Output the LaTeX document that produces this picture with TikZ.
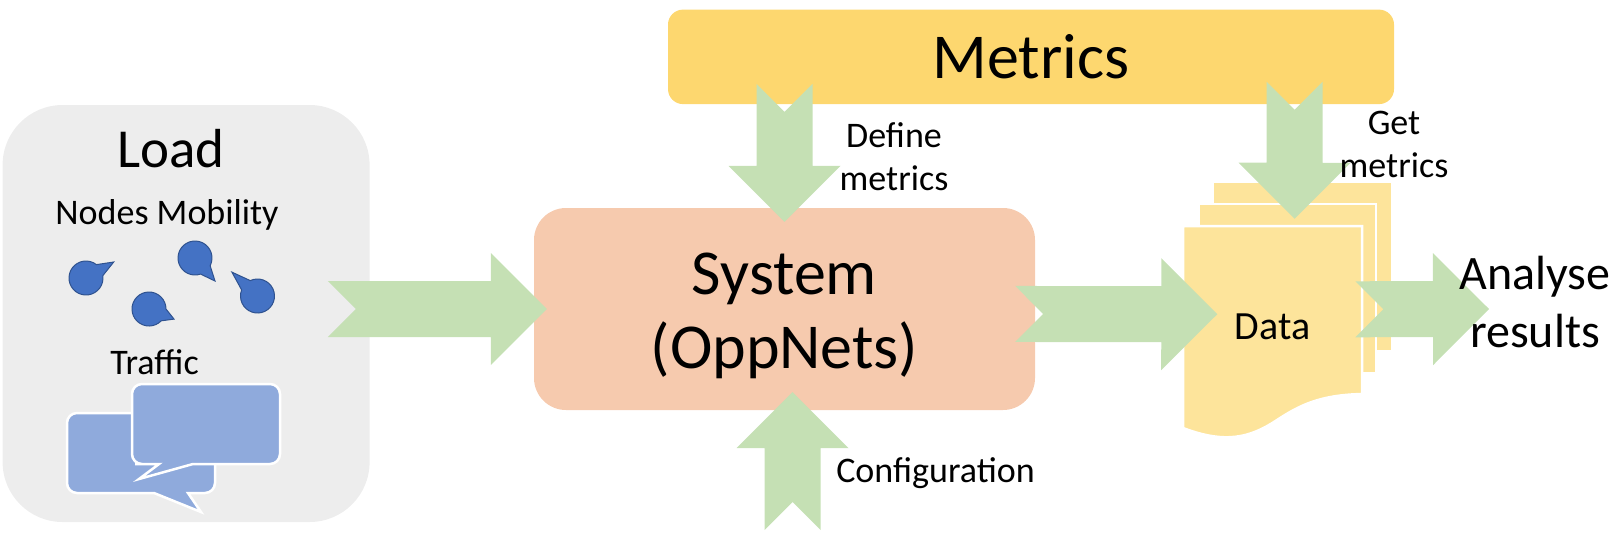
\documentclass[tikz,border=0pt]{standalone}
\usepackage{fontspec}
\setmainfont{Carlito}
\usetikzlibrary{calc,positioning}
\definecolor{loadgrey}{HTML}{EDEDED}
\definecolor{pinblue}{HTML}{4472C4}
\definecolor{pinedge}{HTML}{2F528F}
\definecolor{bubbleblue}{HTML}{8FAADC}
\definecolor{arrowgreen}{HTML}{C5E0B4}
\definecolor{sysorange}{HTML}{F6CAAE}
\definecolor{metricgold}{HTML}{FDD76F}
\definecolor{docyellow}{HTML}{FDE49B}

\begin{document}
\begin{tikzpicture}[
    x=1pt, y=-1pt,
    lbl/.style={inner sep=0pt, align=center},
    huge/.style={lbl, font=\fontsize{64}{74}\selectfont},
    big/.style={lbl, font=\fontsize{48}{58}\selectfont},
    small/.style={lbl, font=\fontsize{36}{43}\selectfont},
    panel/.style={rounded corners=#1, inner sep=0pt, align=center},
    sheet/.style={fill=docyellow, draw=white, line width=2.5pt, inner sep=0pt},
    bubble/.style={fill=bubbleblue, draw=white, line width=2.5pt},
    pin/.style={fill=pinblue, draw=pinedge, line width=1pt},
    blockarr/.style={fill=arrowgreen, to path={
        let \p1=(\tikztostart), \p2=(\tikztotarget), \n1={atan2(\y2-\y1,\x2-\x1)} in
        -- ($(\p1)+(\n1+135:39.6pt)$) -- ($(\p2)+(\n1+153.43:62.6pt)$) -- ($(\p2)+(\n1+135:79.2pt)$)
        -- (\p2) -- ($(\p2)+(\n1-135:79.2pt)$) -- ($(\p2)+(\n1-153.43:62.6pt)$) -- ($(\p1)+(\n1-135:39.6pt)$) -- cycle}}
]
\useasboundingbox (0,0) rectangle (1621,539);
\node[panel=32pt, fill=sysorange, minimum width=501pt, minimum height=202pt] (sys) at (784.5,309) {};
\node[panel=60pt, fill=loadgrey, minimum width=367pt, minimum height=417pt, left=164pt of sys, yshift=-4.5pt] (load) {};
\node[panel=15pt, fill=metricgold, minimum width=726pt, minimum height=94.5pt, above=103.5pt of sys, xshift=246.5pt, font=\fontsize{64}{74}\selectfont] (metrics) {Metrics};
\node[lbl, anchor=base, font=\fontsize{55}{60}\selectfont] (loadtitle) at (171,167) {Load};
\node[small, anchor=base] (mobility) at (167,224) {Nodes Mobility};
\node[small, anchor=base] (traffic) at (154.5,374) {Traffic};
\foreach \px/\py/\ang/\rr in {86/278/30/32, 195/258/-49/30.5, 149/309/-22/27, 257.5/296/137/35}
    \draw[pin] ($(\px,\py)+(\ang+22:17pt)$) -- ($(\px,\py)+(\ang:\rr pt)$) -- ($(\px,\py)+(\ang-22:17pt)$) arc[start angle=\ang-22, delta angle=-316, radius=17pt] -- cycle;
\draw[bubble] (188,493) -- (200,493) [rounded corners=10pt] -- (215,493) -- (215,413) -- (67,413) -- (67,493) -- (100,493) [sharp corners] -- (154,493) -- (201,512) -- cycle;
\draw[bubble] (193,464) -- (210,464) [rounded corners=10pt] -- (280,464) -- (280,384) -- (132,384) -- (132,464) -- (145,464) [sharp corners] -- (159,464) -- (139,479) -- cycle;
\node[sheet, minimum width=179pt, minimum height=169pt] (sheetc) at (1302.5,266.5) {};
\node[sheet, minimum width=177pt, minimum height=169pt] (sheetb) at (1287.5,288.5) {};
\draw[sheet] (1183,226) -- (1362,226) -- (1362,394) .. controls (1320,395) and (1300,405) .. (1277,420) .. controls (1250,438) and (1225,444) .. (1183,428) -- cycle;
\node[lbl, anchor=base, font=\fontsize{40}{43}\selectfont] (data) at (1272.5,339) {Data};
\coordinate (cfgin) at (792.5,502);
\coordinate (results) at (1535,302);
\path[blockarr] ([xshift=-14pt,yshift=4.5pt]load.east) to ([xshift=13pt]sys.west);
\path[blockarr] ([xshift=-246.5pt,yshift=-7.5pt]metrics.south) to ([yshift=-14pt]sys.north);
\path[blockarr] (cfgin) to ([xshift=8pt,yshift=18pt]sys.south);
\path[blockarr] ([xshift=8pt,yshift=-5pt]sys.east) to ([xshift=-17.3pt,yshift=12.1pt]data.west);
\path[blockarr] ([xshift=263.6pt,yshift=-5.5pt]metrics.south) to ([xshift=7pt,yshift=-16pt]sheetb.north);
\path[blockarr] ([xshift=72.9pt,yshift=17.1pt]data.east) to ([xshift=-46pt,yshift=-7pt]results);
\node[huge, below=45pt of sys.north] (sysname) {System\\(OppNets)};
\node[small] (define) at (894,157) {Define\\metrics};
\node[small] (getm) at (1394,144) {Get\\metrics};
\node[small, anchor=base] (config) at (935.5,482) {Configuration};
\node[big] (analyse) at (results) {Analyse\\results};
\end{tikzpicture}
\end{document}
